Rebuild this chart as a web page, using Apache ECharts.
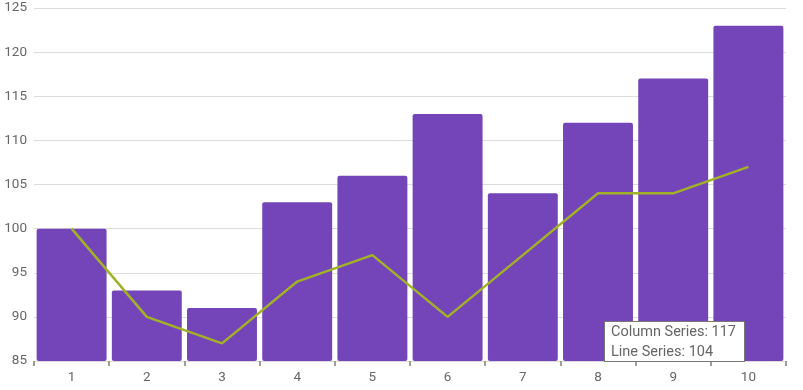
<!DOCTYPE html>
<html><head><meta charset="utf-8">
<script src="https://cdn.jsdelivr.net/npm/echarts@6/dist/echarts.min.js"></script>
<style>html,body{margin:0;padding:0;background:#fff;}#c{width:803px;height:390px;}</style>
</head><body><div id="c"></div>
<script>
const categories = ['1','2','3','4','5','6','7','8','9','10'];
const columnValues = [100, 93, 91, 103, 106, 113, 104, 112, 117, 123];
const lineValues = [100, 90, 87, 94, 97, 90, 97, 104, 104, 107];
const yMin = 85, yMax = 125, yStep = 5;

const chart = echarts.init(document.getElementById('c'));
chart.setOption({
  animation: false,
  textStyle: { fontFamily: 'Roboto, sans-serif' },
  grid: { left: 34, right: 17, top: 8, bottom: 29, containLabel: false },
  xAxis: {
    type: 'category',
    data: categories,
    boundaryGap: true,
    axisLine: { show: false },
    axisTick: { show: true, alignWithLabel: false, length: 5, lineStyle: { color: '#9e9e9e', width: 2 } },
    axisLabel: { color: '#666', fontSize: 13.5, margin: 10 }
  },
  yAxis: {
    type: 'value',
    min: yMin, max: yMax, interval: yStep,
    axisLine: { show: false },
    axisTick: { show: false },
    axisLabel: { color: '#666', fontSize: 13.5, margin: 7 },
    splitLine: { lineStyle: { color: '#dcdcdc', width: 1 } }
  },
  tooltip: {
    trigger: 'axis',
    triggerOn: 'none',
    alwaysShowContent: true,
    axisPointer: { type: 'none' },
    position: [604, 321],
    backgroundColor: '#fff',
    borderColor: '#777',
    borderWidth: 1,
    borderRadius: 0,
    padding: 0,
    extraCssText: 'box-shadow:none;',
    formatter: function (params) {
      return '<div style="box-sizing:border-box;width:139px;height:39px;padding:0 0 0 6px;font-family:Roboto,sans-serif;font-size:14.5px;line-height:20px;color:#666;white-space:nowrap;">' +
        params.map(p => p.seriesName + ': ' + p.value).join('<br>') + '</div>';
    }
  },
  series: [
    {
      name: 'Column Series',
      type: 'bar',
      data: columnValues,
      barCategoryGap: '7%',
      emphasis: { disabled: true },
      itemStyle: { color: '#7445b8', borderRadius: 2 }
    },
    {
      name: 'Line Series',
      type: 'line',
      data: lineValues,
      showSymbol: false,
      symbol: 'none',
      emphasis: { disabled: true },
      lineStyle: { color: '#a2b227', width: 2.5 },
      itemStyle: { color: '#a2b227' }
    }
  ]
});
chart.dispatchAction({ type: 'showTip', seriesIndex: 0, dataIndex: 8 });
</script>
</body></html>
